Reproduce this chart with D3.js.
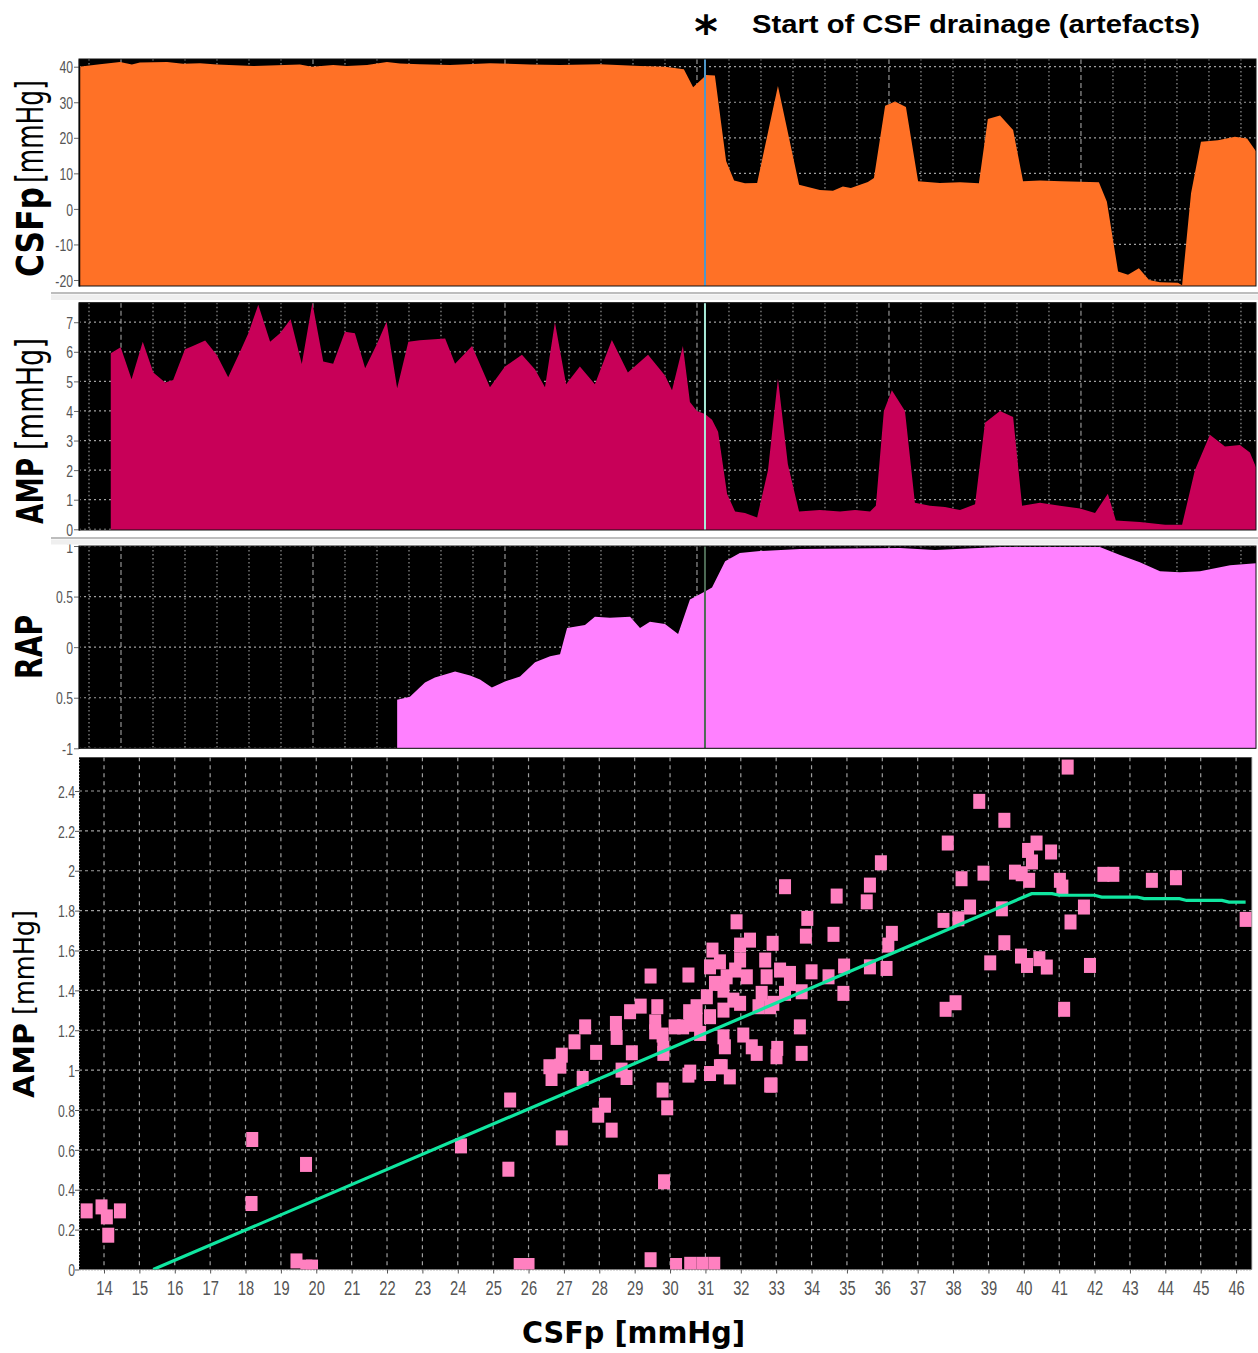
<!DOCTYPE html>
<html>
<head>
<meta charset="utf-8">
<script src="https://cdnjs.cloudflare.com/ajax/libs/d3/7.8.5/d3.min.js"></script>
<style>
  body { margin: 0; background: #fff; }
  svg { display: block; }
</style>
</head>
<body>
<svg id="chart" width="1258" height="1353"></svg>
<script>
// ---- Time series (time in minutes, value) ----
const csfpSeries = [
  [-0.31,40.0],[0.34,40.7],[0.97,41.3],[1.34,40.6],[1.59,41.2],[2.44,41.3],[2.94,40.8],[3.47,41.0],
  [4.0,40.6],[5.13,40.2],[6.59,40.6],[6.97,40.0],[7.63,40.5],[8.06,40.2],[8.69,40.5],[9.31,41.3],
  [9.72,40.9],[10.34,40.7],[11.28,40.5],[12.53,41.0],[13.78,40.6],[14.72,40.5],[15.97,40.7],
  [17.22,40.2],[18.0,40.0],[18.59,39.3],[18.88,34.2],[19.19,36.8],[19.28,37.7],[19.56,37.5],
  [19.91,13.5],[20.16,8.0],[20.5,7.2],[20.88,7.3],[21.53,34.6],[22.19,6.8],[22.84,5.3],[23.25,5.1],
  [23.56,6.3],[23.81,5.9],[24.34,7.6],[24.53,8.7],[24.88,29.0],[25.19,30.2],[25.53,28.7],[25.91,7.8],
  [26.59,7.3],[27.22,7.5],[27.81,7.2],[28.09,25.3],[28.47,26.3],[28.88,22.2],[29.19,7.8],[29.72,8.0],
  [30.38,7.8],[31.56,7.5],[31.81,2.0],[32.16,-17.6],[32.47,-18.5],[32.81,-16.7],[33.13,-20.0],
  [33.47,-20.6],[34.03,-20.8],[34.16,-21.5],[34.44,4.4],[34.75,18.9],[35.28,19.3],[35.81,20.3],
  [36.19,19.8],[36.47,16.2]
];

const ampSeries = [
  [0.68,5.95],[0.99,6.15],[1.33,5.07],[1.68,6.34],[2.01,5.3],[2.38,4.96],[2.63,5.05],[3.0,6.09],
  [3.21,6.18],[3.63,6.38],[3.99,5.9],[4.35,5.14],[4.72,6.0],[4.98,6.63],[5.29,7.59],[5.66,6.34],
  [5.97,6.63],[6.3,7.1],[6.65,5.59],[6.98,7.66],[7.32,5.67],[7.63,5.6],[8.0,6.68],[8.31,6.63],
  [8.63,5.44],[8.99,6.25],[9.3,7.02],[9.63,4.77],[9.98,6.34],[10.34,6.39],[11.13,6.45],[11.44,5.6],
  [11.97,6.2],[12.53,4.8],[13.0,5.5],[13.53,5.9],[13.94,5.4],[14.25,4.8],[14.56,7.0],[14.91,4.9],
  [15.34,5.5],[15.81,4.9],[16.34,6.4],[16.84,5.3],[17.47,5.9],[18.0,5.2],[18.22,4.7],[18.56,6.2],
  [18.78,4.3],[19.0,4.0],[19.25,3.9],[19.47,3.7],[19.66,3.3],[19.94,1.2],[20.19,0.6],[20.5,0.55],
  [20.88,0.4],[21.22,2.0],[21.53,5.1],[21.84,2.2],[22.19,0.6],[22.84,0.65],[23.47,0.6],[23.94,0.65],
  [24.41,0.6],[24.59,0.8],[24.84,4.0],[25.09,4.7],[25.5,4.0],[25.81,0.9],[26.28,0.8],[26.75,0.75],
  [27.22,0.65],[27.69,0.85],[28.0,3.6],[28.47,4.0],[28.88,3.8],[29.16,0.8],[29.72,0.9],[30.34,0.8],
  [30.97,0.7],[31.44,0.55],[31.84,1.2],[32.09,0.3],[32.84,0.25],[33.63,0.15],[34.16,0.15],
  [34.56,2.0],[35.03,3.2],[35.5,2.8],[35.97,2.85],[36.28,2.6],[36.47,2.1]
];

const rapSeries = [
  [9.63,-0.52],[10.03,-0.49],[10.5,-0.35],[10.81,-0.30],[11.44,-0.24],[11.91,-0.28],[12.22,-0.32],
  [12.59,-0.40],[13.0,-0.34],[13.47,-0.29],[13.94,-0.15],[14.41,-0.09],[14.72,-0.07],[14.94,0.19],
  [15.5,0.22],[15.81,0.30],[16.28,0.29],[16.91,0.30],[17.22,0.19],[17.53,0.25],[18.0,0.23],
  [18.41,0.13],[18.78,0.47],[19.25,0.55],[19.47,0.59],[19.88,0.85],[20.34,0.93],[20.97,0.95],
  [22.22,0.97],[25.34,0.98],[26.44,0.96],[28.47,0.99],[31.59,0.99],[32.22,0.91],[32.84,0.84],
  [33.47,0.75],[34.09,0.74],[34.72,0.75],[35.66,0.81],[36.47,0.83]
];

// Start of CSF drainage (minutes)
const drainageStart = 19.25;

// ---- AMP vs CSFp scatter ----
const scatterPoints = [
  [13.51,0.294],[13.93,0.314],[14.08,0.264],[14.12,0.172],[14.45,0.294],
  [18.19,0.652],[18.17,0.331],[19.71,0.527],[19.44,0.043],[19.72,0.012],[19.88,0.012],
  [24.09,0.62],[25.48,0.85],[25.43,0.503],[25.75,0.02],[26.0,0.02],[26.94,0.66],
  [26.59,1.017],[26.65,0.958],[26.94,1.075],[26.9,1.02],[27.3,1.142],[27.6,1.217],[27.53,0.958],
  [27.91,1.089],[28.47,1.234],[28.49,1.164],[28.63,1.0],[28.77,0.963],[28.87,1.293],[29.17,1.321],
  [28.92,1.087],[28.16,0.824],[27.97,0.774],[28.35,0.699],[29.45,1.472],[30.52,1.477],
  [29.64,1.318],[29.58,1.242],[29.58,1.192],[29.79,1.176],[29.81,1.084],[29.81,1.109],[29.79,0.9],
  [29.92,0.811],[29.83,0.44],[30.13,1.217],[30.37,1.217],[30.54,1.293],[30.7,1.24],[30.52,0.975],
  [29.45,0.049],[30.17,0.02],[30.57,0.026],[30.91,0.026],[31.25,0.026],
  [33.25,1.92],[34.71,1.873],[35.65,1.928],[35.56,1.844],[35.96,2.04],
  [31.88,1.744],[33.88,1.761],[33.84,1.672],[34.62,1.681],[32.26,1.652],[31.98,1.627],[32.9,1.636],
  [36.27,1.686],[36.17,1.627],[36.12,1.51],[35.65,1.518],[34.92,1.522],[34.0,1.493],[34.48,1.468],
  [34.9,1.385],[33.72,1.393],[33.67,1.217],[33.72,1.084],[33.03,1.109],[33.01,1.067],[32.83,0.925],
  [32.87,0.925],[32.45,1.084],[32.31,1.117],[32.07,1.176],[31.51,1.167],[31.46,1.017],[31.69,0.966],
  [31.13,0.983],[31.41,1.017],[31.55,1.117],[30.85,1.184],[30.57,0.99],
  [31.2,1.602],[31.13,1.518],[31.41,1.543],[31.6,1.468],[31.84,1.502],[31.98,1.552],[32.17,1.468],
  [31.27,1.435],[31.51,1.401],[31.79,1.351],[31.98,1.335],[31.04,1.368],[30.75,1.318],[30.75,1.251],
  [31.13,1.268],[31.51,1.301],[30.57,1.23],[32.69,1.552],[32.73,1.468],[33.11,1.502],[33.39,1.485],
  [32.59,1.385],[32.92,1.335],[33.39,1.435],[33.25,1.385],[32.83,1.318],[32.5,1.318],
  [41.24,2.52],[38.74,2.348],[39.45,2.253],[37.85,2.139],[40.36,2.139],[40.12,2.102],[40.77,2.094],
  [40.23,2.044],[38.86,1.988],[38.24,1.96],[39.75,1.993],[39.94,1.985],[40.15,1.952],[41.02,1.952],
  [41.09,1.918],[42.25,1.982],[42.53,1.982],[43.62,1.952],[44.3,1.965],[46.27,1.756],
  [37.73,1.751],[38.15,1.759],[38.48,1.818],[39.38,1.809],[41.7,1.818],[41.32,1.743],
  [39.45,1.639],[39.05,1.538],[39.92,1.572],[40.09,1.525],[40.44,1.559],[40.65,1.517],[41.87,1.525],
  [37.79,1.305],[38.07,1.338],[41.14,1.305]
];

// Binned-mean fit line of AMP against CSFp
const fitLine = [
  [15.39,0],[40.22,1.885],[40.8,1.885],[41.0,1.877],[42.0,1.877],[42.2,1.868],[43.2,1.868],
  [43.4,1.86],[44.4,1.86],[44.6,1.851],[45.6,1.851],[45.8,1.843],[46.27,1.843]
];

// ---- Tick values and labels ----
const csfpTicks = [40, 30, 20, 10, 0, -10, -20];
const csfpTickLabels = ["40", "30", "20", "10", "0", "-10", "-20"];
const ampTicks = [7, 6, 5, 4, 3, 2, 1, 0];
const ampTickLabels = ["7", "6", "5", "4", "3", "2", "1", "0"];
const rapTicks = [1, 0.5, 0, -0.5, -1];
const rapTickLabels = ["1", "0.5", "0", "0.5", "-1"];
const timeGrid = d3.range(0, 37);
const timeMajor = [1, 7, 13, 19, 25, 31];
const scatterXTicks = d3.range(14, 47);
const scatterYTicks = [0, 0.2, 0.4, 0.6, 0.8, 1, 1.2, 1.4, 1.6, 1.8, 2, 2.2, 2.4];
const scatterYTickLabels = ["0", "0.2", "0.4", "0.6", "0.8", "1", "1.2", "1.4", "1.6", "1.8", "2", "2.2", "2.4"];

// ---- Drawing ----
const svg = d3.select("#chart");
const defs = svg.append("defs");
const tickFont = "'Liberation Sans', Arial, sans-serif";
const titleFont = "'DejaVu Sans', Verdana, sans-serif";
const gridColor = "#a0a0a0";

const timeX = d3.scaleLinear().domain([-0.3125, 36.47]).range([79, 1256]);

function timePanel(cfg) {
  const { id, top, bottom, yDomain, ticks, labels, series, fill, markColor } = cfg;
  const y = d3.scaleLinear().domain(yDomain).range([bottom, top]);
  const [x0, x1] = timeX.range();
  defs.append("clipPath").attr("id", id)
    .append("rect").attr("x", x0).attr("y", top).attr("width", x1 - x0).attr("height", bottom - top);

  const g = svg.append("g");
  g.append("rect").attr("x", x0).attr("y", top).attr("width", x1 - x0).attr("height", bottom - top)
    .attr("fill", "#000");

  const inner = g.append("g").attr("clip-path", `url(#${id})`);
  inner.selectAll("line.hgrid").data(ticks).join("line")
    .attr("class", "hgrid")
    .attr("x1", x0).attr("x2", x1)
    .attr("y1", d => y(d)).attr("y2", d => y(d))
    .attr("stroke", gridColor).attr("stroke-width", 1.2).attr("stroke-dasharray", "2,3");
  inner.selectAll("line.vgrid").data(timeGrid).join("line")
    .attr("class", "vgrid")
    .attr("x1", d => timeX(d)).attr("x2", d => timeX(d))
    .attr("y1", top).attr("y2", bottom)
    .attr("stroke", gridColor).attr("stroke-width", 1.1)
    .attr("stroke-dasharray", d => timeMajor.includes(d) ? "5,3" : "1.5,2.5");

  const area = d3.area()
    .x(d => timeX(d[0]))
    .y0(y(yDomain[0]))
    .y1(d => y(d[1]));
  inner.append("path").datum(series).attr("d", area).attr("fill", fill);

  inner.append("line")
    .attr("x1", timeX(drainageStart)).attr("x2", timeX(drainageStart))
    .attr("y1", top).attr("y2", bottom)
    .attr("stroke", markColor).attr("stroke-width", 2);

  const axis = g.append("g").attr("transform", `translate(${x0},0)`)
    .call(d3.axisLeft(y).tickValues(ticks).tickFormat((d, i) => labels[i]).tickSize(5).tickSizeOuter(0));
  axis.select(".domain").attr("stroke", "#000").attr("stroke-width", 1.5);
  axis.selectAll(".tick line").attr("stroke", "#666");
  axis.selectAll("text")
    .attr("x", 0).attr("dy", "0.36em")
    .attr("transform", "translate(-6,0) scale(0.72,1)")
    .attr("font-family", tickFont).attr("font-size", 17).attr("fill", "#555");
  g.append("rect").attr("x", x0).attr("y", top).attr("width", x1 - x0).attr("height", bottom - top)
    .attr("fill", "none").attr("stroke", "#111").attr("stroke-width", 1);
}

timePanel({ id: "clipCsfp", top: 59, bottom: 286, yDomain: [-21.69, 42.17], ticks: csfpTicks,
  labels: csfpTickLabels, series: csfpSeries, fill: "#ff7126", markColor: "#4f97c8" });
timePanel({ id: "clipAmp", top: 302.7, bottom: 530, yDomain: [-0.024, 7.66], ticks: ampTicks,
  labels: ampTickLabels, series: ampSeries, fill: "#c80058", markColor: "#a8ead8" });
timePanel({ id: "clipRap", top: 546, bottom: 748.3, yDomain: [-1, 1], ticks: rapTicks,
  labels: rapTickLabels, series: rapSeries, fill: "#ff80ff", markColor: "#4d6b55" });

// Splitter bars between the stacked panels
[[293, 294.5, 300], [538, 539.5, 544.5]].forEach(([yl, yb0, yb1]) => {
  svg.append("rect").attr("x", 51).attr("y", yb0).attr("width", 1207).attr("height", yb1 - yb0).attr("fill", "#efefef");
  svg.append("line").attr("x1", 51).attr("x2", 1258).attr("y1", yl).attr("y2", yl)
    .attr("stroke", "#bdbdbd").attr("stroke-width", 2);
});

// ---- Scatter panel ----
const sx = d3.scaleLinear().domain([13.293, 46.45]).range([79, 1252]);
const sy = d3.scaleLinear().domain([0, 2.569]).range([1269.5, 757.3]);
const [sx0, sx1] = sx.range();
const [sy1, sy0] = sy.range();
defs.append("clipPath").attr("id", "clipScatter")
  .append("rect").attr("x", sx0).attr("y", sy0).attr("width", sx1 - sx0).attr("height", sy1 - sy0);

const sg = svg.append("g");
sg.append("rect").attr("x", sx0).attr("y", sy0).attr("width", sx1 - sx0).attr("height", sy1 - sy0).attr("fill", "#000");
const sIn = sg.append("g").attr("clip-path", "url(#clipScatter)");
sIn.selectAll("line.sv").data(scatterXTicks).join("line")
  .attr("x1", d => sx(d)).attr("x2", d => sx(d)).attr("y1", sy0).attr("y2", sy1)
  .attr("stroke", gridColor).attr("stroke-width", 1.2).attr("stroke-dasharray", "4,4");
sIn.selectAll("line.sh").data(scatterYTicks.slice(1)).join("line")
  .attr("x1", sx0).attr("x2", sx1).attr("y1", d => sy(d)).attr("y2", d => sy(d))
  .attr("stroke", gridColor).attr("stroke-width", 1.2).attr("stroke-dasharray", "3,3");

const mw = 12, mh = 15;
sIn.selectAll("rect.pt").data(scatterPoints).join("rect")
  .attr("x", d => sx(d[0]) - mw / 2).attr("y", d => sy(d[1]) - mh / 2)
  .attr("width", mw).attr("height", mh).attr("fill", "#ff80c0");

sIn.append("path").datum(fitLine)
  .attr("d", d3.line().x(d => sx(d[0])).y(d => sy(d[1])))
  .attr("fill", "none").attr("stroke", "#10e6a0").attr("stroke-width", 3.2);

sg.append("line").attr("x1", sx1).attr("x2", sx1).attr("y1", sy0).attr("y2", sy1)
  .attr("stroke", "#c8c8c8").attr("stroke-width", 1);

const sxAxis = sg.append("g").attr("transform", `translate(0,${sy1})`)
  .call(d3.axisBottom(sx).tickValues(scatterXTicks).tickFormat(d3.format("d")).tickSize(4).tickPadding(7).tickSizeOuter(0));
sxAxis.select(".domain").attr("stroke", "#777").attr("stroke-dasharray", "1,2");
sxAxis.selectAll(".tick line").attr("stroke", "#555");
sxAxis.selectAll("text").attr("transform", "scale(0.7,1)")
  .attr("font-family", tickFont).attr("font-size", 21).attr("fill", "#555");

const syAxis = sg.append("g").attr("transform", `translate(${sx0},0)`)
  .call(d3.axisLeft(sy).tickValues(scatterYTicks).tickFormat((d, i) => scatterYTickLabels[i]).tickSize(4).tickSizeOuter(0));
syAxis.select(".domain").attr("stroke", "#777").attr("stroke-dasharray", "1,2");
syAxis.selectAll(".tick line").attr("stroke", "#555");
syAxis.selectAll("text")
  .attr("x", 0).attr("dy", "0.36em")
  .attr("transform", "translate(-4,0) scale(0.72,1)")
  .attr("font-family", tickFont).attr("font-size", 17).attr("fill", "#555");

// ---- Titles ----
function vTitle(x, yStart, len, size, weight, text) {
  svg.append("text")
    .attr("transform", `translate(${x},${yStart}) rotate(-90)`)
    .attr("font-family", titleFont).attr("font-size", size).attr("font-weight", weight)
    .attr("textLength", len).attr("lengthAdjust", "spacingAndGlyphs")
    .attr("fill", "#000").text(text);
}
vTitle(43, 277, 90, 37, "bold", "CSFp");
vTitle(43, 183, 103, 37, "normal", "[mmHg]");
vTitle(43, 524, 66, 37, "bold", "AMP");
vTitle(43, 450, 112, 37, "normal", "[mmHg]");
vTitle(42, 679, 64, 37, "bold", "RAP");
vTitle(34, 1098, 75, 29, "bold", "AMP");
vTitle(34, 1015, 105, 29, "normal", "[mmHg]");

svg.append("text").attr("x", 522).attr("y", 1343)
  .attr("font-family", titleFont).attr("font-size", 30).attr("font-weight", "bold")
  .attr("textLength", 223).attr("lengthAdjust", "spacingAndGlyphs")
  .text("CSFp [mmHg]");

svg.append("text").attr("x", 706).attr("y", 47).attr("text-anchor", "middle")
  .attr("font-family", titleFont).attr("font-size", 45).attr("font-weight", "bold")
  .text("*");
svg.append("text").attr("x", 752).attr("y", 33)
  .attr("font-family", "'Liberation Sans', Arial, sans-serif").attr("font-size", 25).attr("font-weight", "bold")
  .attr("textLength", 448).attr("lengthAdjust", "spacingAndGlyphs")
  .text("Start of CSF drainage (artefacts)");
</script>
</body>
</html>
